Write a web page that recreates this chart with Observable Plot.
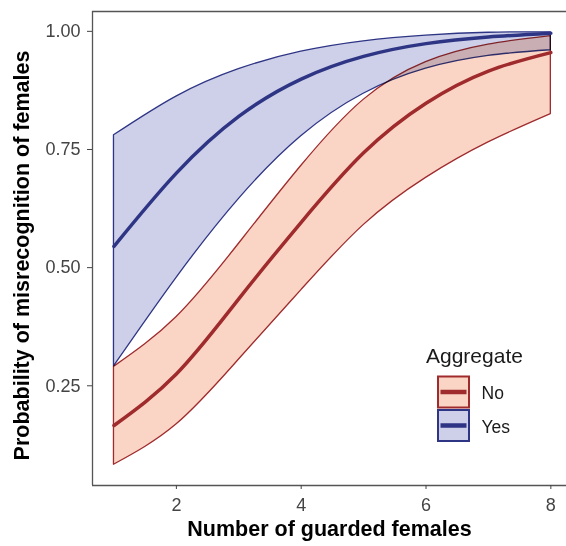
<!DOCTYPE html>
<html>
<head>
<meta charset="utf-8">
<script src="https://cdn.jsdelivr.net/npm/d3@7"></script>
<script src="https://cdn.jsdelivr.net/npm/@observablehq/plot@0.6"></script>
<style>
  html, body { margin: 0; padding: 0; background: #fff; }
  #wrap { position: relative; width: 566px; height: 546px; font-family: "Liberation Sans", Arial, sans-serif; }
  #legend { position: absolute; left: 0; top: 0; pointer-events: none; }
</style>
</head>
<body>
<div id="wrap"></div>
<script>
// ---- data ----
const guarded = [1, 2, 3, 4, 5, 6, 7, 8];
const noMean   = [0.166, 0.275, 0.434, 0.596, 0.743, 0.848, 0.916, 0.955];
const noLower  = [0.083, 0.168, 0.305, 0.452, 0.590, 0.690, 0.765, 0.825];
const noUpper  = [0.290, 0.395, 0.550, 0.715, 0.855, 0.935, 0.972, 0.990];
const yesMean  = [0.545, 0.700, 0.820, 0.899, 0.947, 0.974, 0.988, 0.996];
const yesLower = [0.291, 0.478, 0.645, 0.778, 0.868, 0.921, 0.948, 0.960];
const yesUpper = [0.780, 0.862, 0.920, 0.957, 0.979, 0.991, 0.997, 0.998];
const groups = ["No", "Yes"];
const xTicks = [2, 4, 6, 8];
const yTicks = [0.25, 0.50, 0.75, 1.00];
const xTitle = "Number of guarded females";
const yTitle = "Probability of misrecognition of females";
const legendTitle = "Aggregate";

const colors = {
  No:  {fill: "#fad5c6", stroke: "#9f2b2d"},
  Yes: {fill: "#cdd0e8", stroke: "#2f3585"}
};

const rows = (mean, lo, hi, g) => guarded.map((x, i) => ({x, mean: mean[i], lo: lo[i], hi: hi[i], g}));
const noRows = rows(noMean, noLower, noUpper, "No");
const yesRows = rows(yesMean, yesLower, yesUpper, "Yes");

const xDomain = [0.656, 8.251];
const yDomain = [0.039, 1.042];
const curve = "natural";

const chart = Plot.plot({
  width: 566,
  height: 546,
  marginLeft: 92,
  marginRight: 0,
  marginTop: 11,
  marginBottom: 61,
  style: {fontFamily: "Liberation Sans, Arial, sans-serif", background: "#fff"},
  x: {domain: xDomain},
  y: {domain: yDomain},
  marks: [
    Plot.areaY(yesRows, {x: "x", y1: "lo", y2: "hi", fill: colors.Yes.fill, stroke: colors.Yes.stroke, strokeWidth: 1.3, curve}),
    Plot.areaY(noRows, {x: "x", y1: "lo", y2: "hi", fill: colors.No.fill, stroke: colors.No.stroke, strokeWidth: 1.3, curve, mixBlendMode: "multiply"}),
    Plot.lineY(yesRows, {x: "x", y: "mean", stroke: colors.Yes.stroke, strokeWidth: 3.5, curve}),
    Plot.lineY(noRows, {x: "x", y: "mean", stroke: colors.No.stroke, strokeWidth: 3.5, curve}),
    Plot.ruleX([xDomain[0]], {stroke: "#555", strokeWidth: 1.3}),
    Plot.ruleY([yDomain[0], yDomain[1]], {stroke: "#555", strokeWidth: 1.3}),
    Plot.axisX({ticks: xTicks, tickSize: 4, tickPadding: 9, fontSize: 18, color: "#444", label: null}),
    Plot.axisY({ticks: yTicks, tickFormat: d3.format(".2f"), tickSize: 5, tickPadding: 7, fontSize: 18, color: "#444", label: null}),
    Plot.text([xTitle], {frameAnchor: "bottom", textAnchor: "middle", dy: 50, fontSize: 21.5, fontWeight: "bold", fill: "#000"}),
    Plot.text([yTitle], {frameAnchor: "left", textAnchor: "middle", rotate: -90, dx: -70, dy: 7, fontSize: 21.5, fontWeight: "bold", fill: "#000"})
  ]
});

const wrap = document.getElementById("wrap");
wrap.appendChild(chart);

// ---- legend (inside the panel, bottom right) ----
const leg = d3.select(wrap).append("svg")
  .attr("id", "legend").attr("width", 566).attr("height", 546)
  .style("font-family", "Liberation Sans, Arial, sans-serif");
leg.append("text").attr("x", 426).attr("y", 362.5).attr("font-size", 21).attr("fill", "#1a1a1a").text(legendTitle);
groups.forEach((g, i) => {
  const top = 376.5 + i * 33.5;
  leg.append("rect").attr("x", 438).attr("y", top).attr("width", 31).attr("height", 31)
    .attr("fill", colors[g].fill).attr("stroke", colors[g].stroke).attr("stroke-width", 2);
  leg.append("line").attr("x1", 440.5).attr("x2", 466.5).attr("y1", top + 15.5).attr("y2", top + 15.5)
    .attr("stroke", colors[g].stroke).attr("stroke-width", 4.5);
  leg.append("text").attr("x", 481.5).attr("y", top + 16.5).attr("dominant-baseline", "central")
    .attr("font-size", 17.5).attr("fill", "#1a1a1a").text(g);
});
</script>
</body>
</html>
